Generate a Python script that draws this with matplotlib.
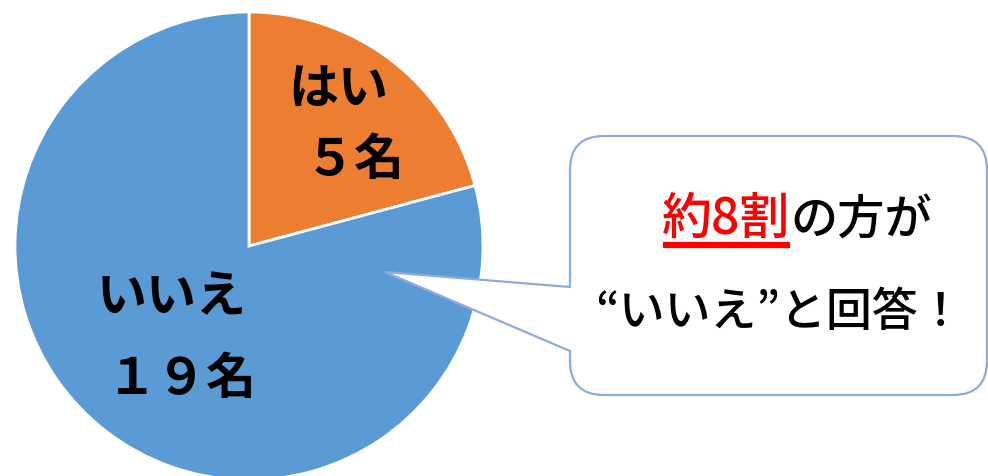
import matplotlib
matplotlib.use("Agg")
import matplotlib.pyplot as plt
from matplotlib.patches import FancyBboxPatch, Polygon
from matplotlib.lines import Line2D

plt.rcParams['font.family'] = ['Noto Sans CJK JP', 'DejaVu Sans']

# ---- data ----
labels = ['はい', 'いいえ']
counts = [5, 19]
colors = ['#ED7D31', '#5B9BD5']
count_text = ['５名', '１９名']
callout_red = '約8割'
callout_black = 'の方が'
callout_line2 = '“いいえ”と回答！'

W, H = 988, 477
fig = plt.figure(figsize=(W / 100, H / 100), dpi=100)
ax = fig.add_axes([0, 0, 1, 1])

def py(y):  # convert pixel-from-top to axes y
    return H - y

# pie
cx, cy, r = 249, py(247), 234
ax.pie(counts, colors=colors, startangle=90, counterclock=False,
       center=(cx, cy), radius=r, frame=True,
       wedgeprops=dict(edgecolor='white', linewidth=2.0))
ax.set_xlim(0, W)
ax.set_ylim(0, H)
ax.set_aspect('equal')
ax.axis('off')

# pie labels
lab_kw = dict(fontsize=36, fontweight='bold', color='black', ha='center', va='center')
ax.text(338, py(90), labels[0], **lab_kw)
ax.text(354, py(160), count_text[0], **lab_kw)
ax.text(172, py(298), labels[1], **lab_kw)
ax.text(182, py(379), count_text[1], **lab_kw)

# callout bubble
edge_c = '#8FAADC'
bx0, bx1 = 570, 987
by_top, by_bot = 137, 396
bubble = FancyBboxPatch((bx0, py(by_bot)), bx1 - bx0, by_bot - by_top,
                        boxstyle='round,pad=0,rounding_size=34',
                        facecolor='white', edgecolor=edge_c, linewidth=1.6,
                        zorder=3)
ax.add_patch(bubble)
tip = (385, py(273))
j1 = (bx0, py(288))
j2 = (bx0, py(352))
tail = Polygon([tip, j1, (bx0 + 5, j1[1]), (bx0 + 5, j2[1]), j2],
               closed=True, facecolor='white', edgecolor='none', zorder=4)
ax.add_patch(tail)
ax.add_line(Line2D([j1[0], tip[0], j2[0]], [j1[1], tip[1], j2[1]],
                   color=edge_c, linewidth=1.6, zorder=5,
                   solid_joinstyle='miter'))

# callout text
bnd = 790
t_red = ax.text(bnd, py(220), callout_red, fontsize=36, fontweight='medium',
                color='#FF0000', ha='right', va='center', zorder=6)
ax.text(bnd, py(220), callout_black, fontsize=34, fontweight='medium',
        color='black', ha='left', va='center', zorder=6)
ax.text(779, py(313), callout_line2, fontsize=33, fontweight='medium',
        color='black', ha='center', va='center', zorder=6)

# underline under red part
fig.canvas.draw()
bb = t_red.get_window_extent(renderer=fig.canvas.get_renderer())
inv = ax.transData.inverted()
(x0, _), (x1, _) = inv.transform([[bb.x0, bb.y0], [bb.x1, bb.y0]])
ax.add_line(Line2D([x0 + 1, x1], [py(246), py(246)], color='#FF0000',
                   linewidth=4.5, solid_capstyle='butt', zorder=6))

fig.savefig('out.png', dpi=100)
